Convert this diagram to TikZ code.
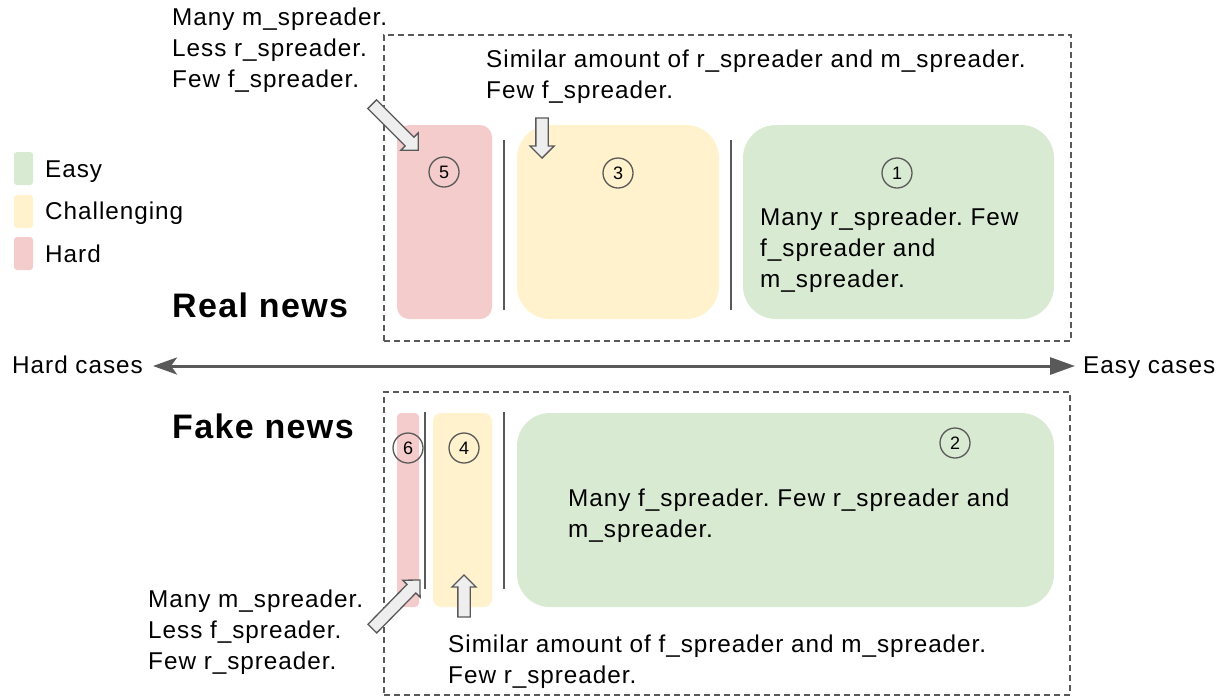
\documentclass[tikz,border=0pt]{standalone}
\usepackage{fontspec}
\setmainfont{Liberation Sans}[LetterSpace=4]
\usetikzlibrary{shapes.arrows,arrows.meta}
\definecolor{easyc}{HTML}{D9EAD3}
\definecolor{chalc}{HTML}{FFF2CC}
\definecolor{hardc}{HTML}{F4CCCC}
\definecolor{ink}{HTML}{595959}
\definecolor{hollowc}{HTML}{EEEEEE}
\frenchspacing
\newcommand\mylines[1]{\vtop{\baselineskip=31pt\halign{##\hfil\cr#1\crcr}}}
\tikzset{
  txt/.style={anchor=base west, inner sep=0pt, font=\fontsize{24.3}{31}\selectfont, text=black},
  titletxt/.style={anchor=base west, inner sep=0pt, font=\fontsize{34}{34}\selectfont\bfseries, text=black},
  zone/.style={draw=none, inner sep=0pt, minimum height=194pt},
  dbox/.style={draw=ink, dash pattern=on 6pt off 4pt, line width=1.3pt, inner sep=0pt},
  divider/.style={draw=ink, line width=1.5pt},
  num/.style={circle, draw=ink, line width=1.3pt, minimum size=30pt, inner sep=0pt, font=\fontsize{18}{18}\selectfont},
  hollowarrow/.style={single arrow, draw=ink, fill=hollowc, line width=1.3pt, inner xsep=0pt, inner ysep=5.5pt, single arrow head extend=6pt, single arrow head indent=0pt, anchor=center},
  legsq/.style={inner sep=0pt, minimum width=19pt, minimum height=33pt, rounded corners=3pt},
  axis/.style={draw=ink, line width=3pt, {Stealth[length=24pt,width=17pt,inset=6pt]}-{Triangle[length=25pt,width=17pt]}},
}
\begin{document}
\begin{tikzpicture}[x=1pt,y=-1pt]
\useasboundingbox (0,0) rectangle (1222,697);

% legend
\node[legsq, fill=easyc] (lg1) at (23.5,168.5) {};
\node[legsq, fill=chalc] (lg2) at (23.5,211.5) {};
\node[legsq, fill=hardc] (lg3) at (23.5,253.5) {};
\node[txt] (lt1) at (45,177) {Easy};
\node[txt] (lt2) at (45,219) {Challenging};
\node[txt] (lt3) at (45,262) {Hard};

% titles
\node[titletxt] (real) at (172,317) {Real news};
\node[titletxt] (fake) at (172,438) {Fake news};

% dashed frames
\node[dbox, minimum width=687pt, minimum height=306pt] (realbox) at (727.5,188) {};
\node[dbox, minimum width=686pt, minimum height=303pt] (fakebox) at (727,543.5) {};

% real news zones
\node[zone, fill=hardc, rounded corners=12pt, minimum width=95pt] (z5) at (444.5,222) {};
\node[zone, fill=chalc, rounded corners=33pt, minimum width=202pt] (z3) at (618,222) {};
\node[zone, fill=easyc, rounded corners=33pt, minimum width=311pt] (z1) at (898.5,222) {};
\coordinate (d1a) at (504,140); \coordinate (d1b) at (504,310);
\coordinate (d2a) at (731,140); \coordinate (d2b) at (731,310);
\draw[divider] (d1a) -- (d1b);
\draw[divider] (d2a) -- (d2b);
\node[num] (n5) at (444,172) {5};
\node[num] (n3) at (618,173) {3};
\node[num] (n1) at (897,173) {1};
\node[txt] (g1) at (760,225) {\mylines{Many r\_spreader. Few\cr f\_spreader and\cr m\_spreader.}};

% fake news zones
\node[zone, fill=hardc, rounded corners=4pt, minimum width=22pt] (z6) at (408,510) {};
\node[zone, fill=chalc, rounded corners=8pt, minimum width=59pt] (z4) at (462.5,510) {};
\node[zone, fill=easyc, rounded corners=33pt, minimum width=537pt] (z2) at (785.5,510) {};
\coordinate (d3a) at (425,412); \coordinate (d3b) at (425,589);
\coordinate (d4a) at (504,412); \coordinate (d4b) at (504,589);
\draw[divider] (d3a) -- (d3b);
\draw[divider] (d4a) -- (d4b);
\node[num] (n6) at (408,448) {6};
\node[num] (n4) at (464,448) {4};
\node[num] (n2) at (955,443) {2};
\node[txt] (g2) at (568,506) {\mylines{Many f\_spreader. Few r\_spreader and\cr m\_spreader.}};

% annotations
\node[txt] (ann5) at (172,25) {\mylines{Many m\_spreader.\cr Less r\_spreader.\cr Few f\_spreader.}};
\node[txt] (ann3) at (486,67) {\mylines{Similar amount of r\_spreader and m\_spreader.\cr Few f\_spreader.}};
\node[txt] (ann6) at (148,607) {\mylines{Many m\_spreader.\cr Less f\_spreader.\cr Few r\_spreader.}};
\node[txt] (ann4) at (448,652) {\mylines{Similar amount of f\_spreader and m\_spreader.\cr Few r\_spreader.}};

% hollow pointers
\node[hollowarrow, minimum height=65pt, rotate=-45] (p5) at (393,125) {};
\node[hollowarrow, minimum height=40pt, rotate=-90] (p3) at (542,135) {};
\node[hollowarrow, minimum height=42pt, rotate=90] (p4) at (464,599) {};
\node[hollowarrow, minimum height=68pt, rotate=45.6] (p6) at (394,606.5) {};

% axis
\node[txt] (hardcases) at (12,373) {Hard cases};
\node[txt] (easycases) at (1083,373) {Easy cases};
\coordinate (axL) at (153,366);
\coordinate (axR) at (1075,366);
\draw[axis] (axL) -- (axR);
\end{tikzpicture}
\end{document}
